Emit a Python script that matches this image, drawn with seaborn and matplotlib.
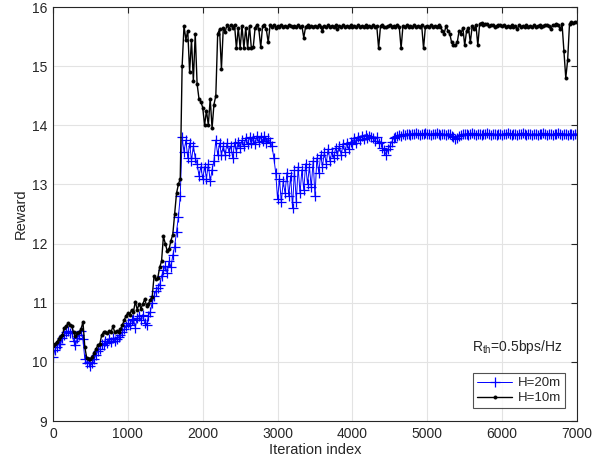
import numpy as np
import pandas as pd
import matplotlib
matplotlib.use("Agg")
import matplotlib.pyplot as plt
import seaborn as sns

# ---------------- data ----------------
iterations = np.arange(0, 7001, 25)

reward_h20 = [
    10.08, 10.2, 10.25, 10.3, 10.3, 10.4, 10.45, 10.5, 10.52, 10.48, 10.5, 10.35, 10.28, 10.4, 10.45, 10.52, 10.38, 10.05, 9.98, 10.0,
    9.93, 9.98, 10.05, 10.12, 10.18, 10.22, 10.3, 10.28, 10.35, 10.32, 10.38, 10.33, 10.4, 10.35, 10.38, 10.42, 10.45, 10.5, 10.55, 10.6,
    10.65, 10.62, 10.7, 10.72, 10.58, 10.75, 10.78, 10.7, 10.8, 10.65, 10.62, 10.78, 10.85, 11.0, 11.12, 11.2, 11.25, 11.3, 11.45, 11.55,
    11.62, 11.5, 11.7, 11.6, 11.8, 11.95, 12.2, 12.45, 12.8, 13.8, 13.55, 13.75, 13.45, 13.7, 13.4, 13.65, 13.45, 13.35, 13.15, 13.3,
    13.1, 13.3, 13.1, 13.35, 13.05, 13.25, 13.4, 13.75, 13.5, 13.7, 13.5, 13.65, 13.5, 13.7, 13.55, 13.65, 13.45, 13.7, 13.55, 13.72,
    13.62, 13.75, 13.65, 13.78, 13.68, 13.8, 13.7, 13.78, 13.68, 13.82, 13.72, 13.8, 13.74, 13.82, 13.7, 13.78, 13.72, 13.65, 13.45, 13.2,
    12.75, 13.1, 12.7, 13.05, 12.85, 13.2, 12.8, 13.15, 12.6, 13.25, 12.7, 13.3, 12.85, 13.25, 12.9, 13.35, 13.0, 13.3, 12.95, 13.4,
    12.8, 13.45, 13.2, 13.5, 13.3, 13.55, 13.35, 13.6, 13.4, 13.55, 13.45, 13.62, 13.5, 13.65, 13.5, 13.68, 13.55, 13.7, 13.6, 13.72,
    13.68, 13.78, 13.7, 13.8, 13.75, 13.82, 13.76, 13.84, 13.78, 13.82, 13.8, 13.78, 13.74, 13.8, 13.7, 13.72, 13.62, 13.58, 13.5, 13.6,
    13.65, 13.72, 13.78, 13.8, 13.82, 13.83, 13.82, 13.85, 13.84, 13.86, 13.85, 13.84, 13.86, 13.85, 13.87, 13.85, 13.84, 13.86, 13.85, 13.87,
    13.86, 13.85, 13.84, 13.86, 13.85, 13.87, 13.85, 13.84, 13.86, 13.85, 13.84, 13.86, 13.85, 13.82, 13.8, 13.76, 13.78, 13.82, 13.84, 13.85,
    13.85, 13.86, 13.84, 13.85, 13.87, 13.85, 13.84, 13.86, 13.85, 13.84, 13.86, 13.85, 13.87, 13.85, 13.84, 13.86, 13.85, 13.84, 13.86, 13.85,
    13.84, 13.86, 13.85, 13.87, 13.85, 13.84, 13.86, 13.85, 13.84, 13.86, 13.85, 13.87, 13.85, 13.84, 13.86, 13.85, 13.84, 13.86, 13.85, 13.84,
    13.86, 13.85, 13.87, 13.85, 13.84, 13.86, 13.85, 13.84, 13.86, 13.85, 13.87, 13.85, 13.84, 13.86, 13.85, 13.83, 13.86, 13.85, 13.84, 13.86,
    13.85,
]

reward_h10 = [
    10.27, 10.3, 10.33, 10.38, 10.42, 10.45, 10.58, 10.6, 10.65, 10.62, 10.6, 10.5, 10.43, 10.48, 10.5, 10.55, 10.68, 10.25, 10.07, 10.05,
    10.05, 10.08, 10.15, 10.22, 10.28, 10.3, 10.45, 10.5, 10.5, 10.48, 10.52, 10.5, 10.6, 10.5, 10.52, 10.5, 10.55, 10.62, 10.7, 10.78,
    10.82, 10.8, 10.88, 10.85, 11.02, 10.88, 10.98, 10.9, 10.98, 11.06, 10.95, 10.98, 11.05, 11.1, 11.45, 11.4, 11.42, 11.6, 11.7, 12.12,
    12.0, 11.88, 11.9, 12.05, 12.15, 12.5, 12.85, 13.0, 13.1, 15.0, 15.68, 15.45, 15.6, 14.9, 15.45, 14.75, 15.55, 14.7, 14.45, 14.4,
    14.3, 14.0, 14.25, 14.0, 14.45, 13.95, 14.35, 14.5, 15.55, 15.62, 14.95, 15.65, 15.58, 15.7, 15.62, 15.7, 15.65, 15.7, 15.3, 15.65,
    15.3, 15.68, 15.3, 15.65, 15.3, 15.68, 15.3, 15.32, 15.65, 15.7, 15.62, 15.32, 15.68, 15.7, 15.62, 15.4, 15.69, 15.66, 15.7, 15.65,
    15.68, 15.66, 15.69, 15.67, 15.68, 15.66, 15.69, 15.68, 15.66, 15.68, 15.67, 15.69, 15.66, 15.68, 15.48, 15.67, 15.69, 15.66, 15.68, 15.67,
    15.68, 15.66, 15.69, 15.67, 15.6, 15.68, 15.66, 15.69, 15.67, 15.68, 15.66, 15.69, 15.62, 15.68, 15.66, 15.69, 15.67, 15.68, 15.66, 15.69,
    15.67, 15.68, 15.66, 15.69, 15.67, 15.68, 15.66, 15.69, 15.67, 15.68, 15.66, 15.69, 15.67, 15.68, 15.3, 15.68, 15.69, 15.67, 15.66, 15.68,
    15.69, 15.67, 15.68, 15.66, 15.69, 15.67, 15.3, 15.68, 15.66, 15.69, 15.67, 15.68, 15.66, 15.69, 15.67, 15.68, 15.66, 15.69, 15.3, 15.67,
    15.68, 15.66, 15.69, 15.67, 15.68, 15.66, 15.69, 15.67, 15.6, 15.55, 15.68, 15.6, 15.55, 15.4, 15.35, 15.35, 15.4, 15.6, 15.55, 15.65,
    15.35, 15.6, 15.65, 15.4, 15.68, 15.62, 15.7, 15.35, 15.72, 15.73, 15.7, 15.72, 15.71, 15.68, 15.7, 15.69, 15.67, 15.68, 15.7, 15.69,
    15.68, 15.69, 15.67, 15.68, 15.66, 15.69, 15.67, 15.68, 15.62, 15.69, 15.67, 15.68, 15.66, 15.69, 15.67, 15.68, 15.66, 15.69, 15.67, 15.68,
    15.69, 15.67, 15.68, 15.7, 15.69, 15.68, 15.62, 15.7, 15.69, 15.72, 15.7, 15.62, 15.72, 15.25, 14.8, 15.1, 15.72, 15.74, 15.73, 15.75,
    15.75,
]

series_labels = ["H=20m", "H=10m"]
x_ticks = [0, 1000, 2000, 3000, 4000, 5000, 6000, 7000]
y_ticks = [9, 10, 11, 12, 13, 14, 15, 16]

assert len(reward_h20) == len(iterations) and len(reward_h10) == len(iterations)

df = pd.concat([
    pd.DataFrame({"Iteration": iterations, "Reward": reward_h20, "Series": series_labels[0]}),
    pd.DataFrame({"Iteration": iterations, "Reward": reward_h10, "Series": series_labels[1]}),
])

# ---------------- style ----------------
sns.set_style("white")
plt.rcParams["font.family"] = ["Liberation Sans", "DejaVu Sans"]
plt.rcParams["mathtext.fontset"] = "custom"
plt.rcParams["mathtext.rm"] = "Liberation Sans"
plt.rcParams["mathtext.it"] = "Liberation Sans"

fig = plt.figure(figsize=(6.05, 4.65), dpi=100)
ax = fig.add_axes([53 / 605, 44 / 465, 524 / 605, 414 / 465])

sns.lineplot(data=df[df.Series == series_labels[0]], x="Iteration", y="Reward",
             color="#0000ff", marker="+", markersize=7, markeredgewidth=0.9,
             markeredgecolor="#0000ff", markerfacecolor="#0000ff",
             linewidth=0.7, estimator=None, sort=False, ax=ax, label=series_labels[0])
sns.lineplot(data=df[df.Series == series_labels[1]], x="Iteration", y="Reward",
             color="#000000", marker=".", markersize=4.5, markeredgewidth=0.6,
             markeredgecolor="#000000", markerfacecolor="#000000",
             linewidth=1.0, estimator=None, sort=False, ax=ax, label=series_labels[1])

ax.set_xlim(0, 7000)
ax.set_ylim(9, 16)
ax.set_xticks(x_ticks)
ax.set_yticks(y_ticks)
ax.grid(True, color="#e3e3e3", linewidth=0.8)
ax.set_axisbelow(True)
for s in ax.spines.values():
    s.set_visible(True)
    s.set_color("#262626")
    s.set_linewidth(0.8)
ax.tick_params(direction="in", length=4, width=0.8, top=True, right=True,
               labelsize=10, colors="#262626", pad=4)
ax.set_xlabel("Iteration index", fontsize=10.5, color="#262626", labelpad=2)
ax.set_ylabel("Reward", fontsize=10.5, color="#262626", labelpad=3)

ax.text(5600, 10.25, r"$\mathregular{R_{th}}$=0.5bps/Hz", fontsize=10, color="#262626",
        ha="left", va="center")

leg = ax.legend(loc="lower right", bbox_to_anchor=(0.977, 0.031), fontsize=9.5,
                frameon=True, fancybox=False, handlelength=2.7, numpoints=1,
                borderpad=0.3, labelspacing=0.2, handletextpad=0.4, borderaxespad=0)
leg.get_frame().set_edgecolor("#262626")
leg.get_frame().set_linewidth(0.8)

fig.savefig("out.png", dpi=100)
